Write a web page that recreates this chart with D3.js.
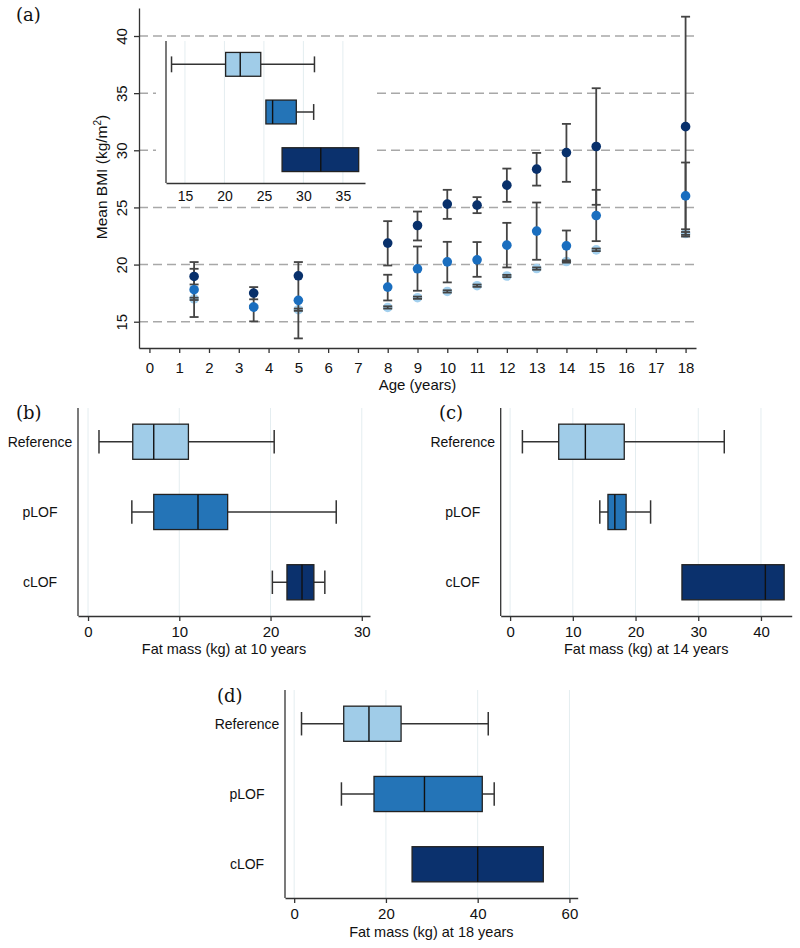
<!DOCTYPE html>
<html>
<head>
<meta charset="utf-8">
<script src="https://cdn.jsdelivr.net/npm/d3@7"></script>
<style>
    body { margin: 0; background: #fff; }
    svg text { font-family: "Liberation Sans", Arial, sans-serif; fill: #111; }
    .panel-label { font-family: "DejaVu Serif", serif; font-size: 18px; }
</style>
</head>
<body>
<svg id="chart" width="800" height="948"></svg>
<script>
// groups and colours
const groups = ['Reference', 'pLOF', 'cLOF'];
const boxColors = ['#a0cce8', '#2474b7', '#0b316d'];
const pointColors = ['#a3d0ee', '#1a6ebf', '#08306b'];

// panel (a): mean BMI by age with 95% CI
const ages = [1.5, 3.5, 5, 8, 9, 10, 11, 12, 13, 14, 15, 18];
const ageTicks = d3.range(0, 19);
const bmiTicks = [15, 20, 25, 30, 35, 40];

const refMean = [17.0, 16.3, 16.05, 16.25, 17.1, 17.65, 18.15, 19.0, 19.65, 20.27, 21.29, 22.72];
const refLo   = [16.9, 16.2, 15.95, 16.15, 17.0, 17.55, 18.05, 18.9, 19.55, 20.17, 21.18, 22.6];
const refHi   = [17.1, 16.4, 16.15, 16.35, 17.2, 17.75, 18.25, 19.1, 19.75, 20.37, 21.4, 22.85];

const plofMean = [17.8, 16.28, 16.87, 18.03, 19.63, 20.24, 20.42, 21.7, 22.93, 21.64, 24.29, 26.01];
const plofLo   = [15.41, 15.03, 13.54, 16.86, 17.71, 18.44, 18.93, 19.75, 20.42, 20.27, 22.05, 23.09];
const plofHi   = [20.22, 17.53, 20.22, 19.11, 21.58, 21.99, 21.97, 23.65, 25.43, 22.98, 26.54, 28.93];

const clofMean = [18.96, 17.51, 19.02, 21.88, 23.42, 25.29, 25.2, 26.95, 28.35, 29.8, 30.33, 32.07];
const clofLo   = [18.26, 16.96, null, 19.92, 22.11, 24.0, 24.5, 25.49, 26.91, 27.24, 25.23, 22.45];
const clofHi   = [19.63, 18.03, null, 23.8, 24.64, 26.54, 25.9, 28.4, 29.77, 32.31, 35.43, 41.69];

// box summaries: [lower whisker, q1, median, q3, upper whisker]
const insetBmi = [[13.3, 20.15, 22.0, 24.6, 31.4], [25.25, 25.25, 26.1, 29.1, 31.3], [27.3, 27.3, 32.2, 37.0, 37.0]];
const insetTicks = [15, 20, 25, 30, 35];
const fat10 = [[1.2, 4.9, 7.2, 11.0, 20.4], [4.8, 7.2, 12.05, 15.3, 27.2], [20.2, 21.8, 23.45, 24.75, 25.95]];
const fat10Ticks = [0, 10, 20, 30];
const fat14 = [[1.96, 7.75, 12.0, 18.2, 34.15], [14.3, 15.6, 16.7, 18.5, 22.4], [27.4, 27.4, 40.7, 43.7, 43.7]];
const fat14Ticks = [0, 10, 20, 30, 40];
const fat18 = [[1.6, 10.8, 16.3, 23.3, 42.3], [10.3, 17.4, 28.4, 41.0, 43.6], [25.7, 25.7, 40.0, 54.3, 54.3]];
const fat18Ticks = [0, 20, 40, 60];

const svg = d3.select('#chart');
const axisColor = '#333';

// ---------- panel (a) ----------
const x = d3.scaleLinear().domain([-0.35, 18.35]).range([139, 696]);
const y = d3.scaleLinear().domain([12.7, 42.45]).range([348, 8]);

// dashed horizontal grid
svg.append('g').selectAll('line')
    .data(bmiTicks)
    .join('line')
    .attr('x1', x.range()[0]).attr('x2', x.range()[1])
    .attr('y1', d => y(d)).attr('y2', d => y(d))
    .attr('stroke', '#a8a8a8')
    .attr('stroke-width', 1.5)
    .attr('stroke-dasharray', '9,5');

// x axis
const xAxis = svg.append('g')
    .attr('transform', `translate(0,${y.range()[0]})`)
    .call(d3.axisBottom(x).tickValues(ageTicks).tickSize(5).tickSizeOuter(0).tickPadding(9))
    .attr('font-size', 15);
xAxis.selectAll('path, line').attr('stroke', axisColor).attr('stroke-width', 1.3);

// y axis with rotated labels
const yAxis = svg.append('g')
    .attr('transform', `translate(${x.range()[0]},0)`)
    .call(d3.axisLeft(y).tickValues(bmiTicks).tickSize(5).tickSizeOuter(0))
    .attr('font-size', 15);
yAxis.selectAll('path, line').attr('stroke', axisColor).attr('stroke-width', 1.3);
yAxis.selectAll('text')
    .attr('x', null).attr('dy', null)
    .attr('text-anchor', 'middle')
    .attr('transform', 'translate(-12.5,0) rotate(-90)');

svg.append('text')
    .attr('x', (x.range()[0] + x.range()[1]) / 2)
    .attr('y', 390)
    .attr('text-anchor', 'middle')
    .attr('font-size', 15)
    .text('Age (years)');

const yLabel = svg.append('text')
    .attr('transform', 'translate(107,177) rotate(-90)')
    .attr('text-anchor', 'middle')
    .attr('font-size', 15.5);
yLabel.append('tspan').text('Mean BMI (kg/m');
yLabel.append('tspan').attr('font-size', 10).attr('dy', -6).text('2');
yLabel.append('tspan').attr('dy', 6).text(')');

// error bars and points
const series = [
    { mean: refMean, lo: refLo, hi: refHi, color: pointColors[0] },
    { mean: plofMean, lo: plofLo, hi: plofHi, color: pointColors[1] },
    { mean: clofMean, lo: clofLo, hi: clofHi, color: pointColors[2] }
];

function drawPoints(s) {
    svg.append('g').selectAll('circle')
        .data(ages.map((a, i) => ({ age: a, v: s.mean[i] })))
        .join('circle')
        .attr('cx', d => x(d.age))
        .attr('cy', d => y(d.v))
        .attr('r', 4.8)
        .attr('fill', s.color);
}

drawPoints(series[0]);

const bars = svg.append('g').attr('stroke', '#444').attr('stroke-width', 1.8);
series.forEach(s => {
    ages.forEach((a, i) => {
        if (s.lo[i] == null) return;
        const cx = x(a);
        bars.append('line').attr('x1', cx).attr('x2', cx).attr('y1', y(s.lo[i])).attr('y2', y(s.hi[i]));
        [s.lo[i], s.hi[i]].forEach(v => {
            bars.append('line').attr('x1', cx - 4.5).attr('x2', cx + 4.5).attr('y1', y(v)).attr('y2', y(v));
        });
    });
});

drawPoints(series[1]);
drawPoints(series[2]);

svg.append('text').attr('class', 'panel-label').attr('x', 16).attr('y', 21).text('(a)');

// ---------- box plot helper ----------
function boxPanel(cfg) {
    const g = svg.append('g');
    const bx = d3.scaleLinear().domain(cfg.xDomain).range(cfg.xRange);
    const by = d3.scalePoint().domain(groups).range(cfg.yRange).padding(cfg.padding);
    const bh = by.step() * 0.5;

    if (cfg.background) {
        g.append('rect')
            .attr('x', cfg.background[0]).attr('y', cfg.background[1])
            .attr('width', cfg.background[2]).attr('height', cfg.background[3])
            .attr('fill', '#fff');
    }

    // faint vertical grid
    g.append('g').selectAll('line')
        .data(cfg.ticks)
        .join('line')
        .attr('x1', d => bx(d)).attr('x2', d => bx(d))
        .attr('y1', cfg.yRange[0]).attr('y2', cfg.yRange[1])
        .attr('stroke', '#e4edf0')
        .attr('stroke-width', 1);

    const ax = g.append('g')
        .attr('transform', `translate(0,${cfg.yRange[1]})`)
        .call(d3.axisBottom(bx).tickValues(cfg.ticks).tickSize(cfg.tickSize).tickSizeOuter(0).tickPadding(cfg.tickPadding))
        .attr('font-size', cfg.fontSize);
    ax.selectAll('path, line').attr('stroke', axisColor).attr('stroke-width', 1.3);

    g.append('line')
        .attr('x1', cfg.xRange[0]).attr('x2', cfg.xRange[0])
        .attr('y1', cfg.yRange[0]).attr('y2', cfg.yRange[1])
        .attr('stroke', axisColor).attr('stroke-width', 1.3);

    cfg.stats.forEach((s, i) => {
        const cy = by(groups[i]);
        const [lo, q1, med, q3, hi] = s;
        const wg = g.append('g').attr('stroke', '#333').attr('stroke-width', 1.5);
        if (lo < q1) {
            wg.append('line').attr('x1', bx(lo)).attr('x2', bx(q1)).attr('y1', cy).attr('y2', cy);
            wg.append('line').attr('x1', bx(lo)).attr('x2', bx(lo)).attr('y1', cy - bh / 3).attr('y2', cy + bh / 3);
        }
        if (hi > q3) {
            wg.append('line').attr('x1', bx(q3)).attr('x2', bx(hi)).attr('y1', cy).attr('y2', cy);
            wg.append('line').attr('x1', bx(hi)).attr('x2', bx(hi)).attr('y1', cy - bh / 3).attr('y2', cy + bh / 3);
        }
        g.append('rect')
            .attr('x', bx(q1)).attr('y', cy - bh / 2)
            .attr('width', bx(q3) - bx(q1)).attr('height', bh)
            .attr('fill', boxColors[i])
            .attr('stroke', '#222')
            .attr('stroke-width', 1.3);
        g.append('line')
            .attr('x1', bx(med)).attr('x2', bx(med))
            .attr('y1', cy - bh / 2).attr('y2', cy + bh / 2)
            .attr('stroke', '#111').attr('stroke-width', 1.4);

        if (cfg.labels) {
            g.append('text')
                .attr('x', cfg.xRange[0] - 38)
                .attr('y', cy)
                .attr('dy', '0.35em')
                .attr('text-anchor', 'middle')
                .attr('font-size', 14)
                .text(groups[i]);
        }
    });

    if (cfg.title) {
        g.append('text')
            .attr('x', (cfg.xRange[0] + cfg.xRange[1]) / 2)
            .attr('y', cfg.titleY)
            .attr('text-anchor', 'middle')
            .attr('font-size', 14.5)
            .text(cfg.title);
    }
}

// inset of panel (a)
boxPanel({
    stats: insetBmi, ticks: insetTicks,
    xDomain: [12.6, 37.8], xRange: [166, 365], yRange: [41, 183], padding: 0.49,
    tickSize: 0, tickPadding: 8.5, fontSize: 14,
    background: [156, 38, 220, 165]
});

// panel (b)
boxPanel({
    stats: fat10, ticks: fat10Ticks,
    xDomain: [-1.1, 30.9], xRange: [78, 370], yRange: [408, 616], padding: 0.48,
    tickSize: 5, tickPadding: 5, fontSize: 15, labels: true,
    title: 'Fat mass (kg) at 10 years', titleY: 654
});
svg.append('text').attr('class', 'panel-label').attr('x', 16).attr('y', 419).text('(b)');

// panel (c)
boxPanel({
    stats: fat14, ticks: fat14Ticks,
    xDomain: [-1.5, 44.9], xRange: [500.7, 791.7], yRange: [408, 616], padding: 0.48,
    tickSize: 5, tickPadding: 5, fontSize: 15, labels: true,
    title: 'Fat mass (kg) at 14 years', titleY: 654
});
svg.append('text').attr('class', 'panel-label').attr('x', 439).attr('y', 419).text('(c)');

// panel (d)
boxPanel({
    stats: fat18, ticks: fat18Ticks,
    xDomain: [-2.0, 61.8], xRange: [285, 577.7], yRange: [690, 898], padding: 0.48,
    tickSize: 5, tickPadding: 5, fontSize: 15, labels: true,
    title: 'Fat mass (kg) at 18 years', titleY: 937
});
svg.append('text').attr('class', 'panel-label').attr('x', 217).attr('y', 702).text('(d)');
</script>
</body>
</html>
